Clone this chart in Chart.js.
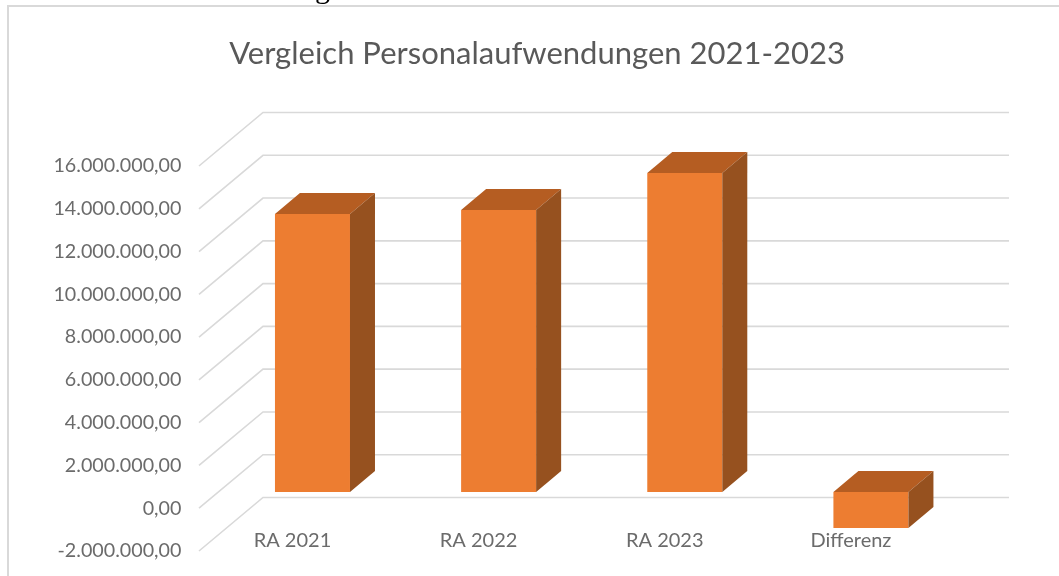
<!DOCTYPE html>
<html><head><meta charset="utf-8">
<style>html,body{margin:0;padding:0;background:#fff;overflow:hidden}canvas{display:block}</style>
<script src="https://cdn.jsdelivr.net/npm/chart.js@4"></script>
</head><body><div style="width:1059px;height:576px;position:relative;overflow:hidden"><canvas id="c"></canvas>
<div style="position:absolute;left:315px;top:-27px;font:30px/30px 'Liberation Serif',serif;color:#000">g</div></div>
<script>
const categories = ['RA 2021','RA 2022','RA 2023','Differenz'];
const values = [13000000, 13180000, 14910000, -1680000];
const chartTitle = 'Vergleich Personalaufwendungen 2021-2023';
const tickStep = 2000000;
const FONT = 'Lato, "Open Sans", sans-serif';
const DEPTH_X = 25, DEPTH_Y = 21, WALL_X = 64, WALL_Y = 53.5, WALL_RIGHT = 1009;
const fmt = v => new Intl.NumberFormat('de-DE',{minimumFractionDigits:2,maximumFractionDigits:2}).format(v);

const scene = {
  id:'scene',
  beforeDraw(ch){
    const c = ch.ctx, y = ch.scales.y;
    c.save();
    c.strokeStyle = '#d9d9d9'; c.lineWidth = 2;
    c.beginPath(); c.moveTo(8,576); c.lineTo(8,6); c.lineTo(1059,6); c.stroke();
    c.strokeStyle = '#d9d9d9'; c.lineWidth = 1.6;
    y.ticks.forEach(t=>{
      const py = y.getPixelForValue(t.value);
      c.beginPath(); c.moveTo(199,py); c.lineTo(199+WALL_X,py-WALL_Y); c.lineTo(WALL_RIGHT,py-WALL_Y); c.stroke();
    });
    c.restore();
  },
  afterDatasetsDraw(ch){
    const c = ch.ctx;
    ch.getDatasetMeta(0).data.forEach(b=>{
      const p = b.getProps(['x','y','base','width'],true);
      const l = p.x-p.width/2, r = p.x+p.width/2;
      const top = Math.min(p.y,p.base), bot = Math.max(p.y,p.base);
      c.save();
      c.fillStyle = '#B55D22';
      c.beginPath(); c.moveTo(l,top); c.lineTo(l+DEPTH_X,top-DEPTH_Y); c.lineTo(r+DEPTH_X,top-DEPTH_Y); c.lineTo(r,top); c.closePath(); c.fill();
      c.fillStyle = '#96511F';
      c.beginPath(); c.moveTo(r,top); c.lineTo(r+DEPTH_X,top-DEPTH_Y); c.lineTo(r+DEPTH_X,bot-DEPTH_Y); c.lineTo(r,bot); c.closePath(); c.fill();
      c.restore();
    });
  }
};

new Chart(document.getElementById('c'),{
  type:'bar',
  data:{labels:categories,datasets:[{data:values,yAxisID:'yb',backgroundColor:'#ED7D31',categoryPercentage:1,barPercentage:0.403}]},
  plugins:[scene],
  options:{
    responsive:true,maintainAspectRatio:false,animation:false,
    layout:{padding:{left:15,right:0,top:0,bottom:0}},
    plugins:{
      legend:{display:false},tooltip:{enabled:false},
      title:{display:true,text:chartTitle,color:'#595959',font:{family:FONT,size:31,weight:'normal'},padding:{top:35,bottom:93.8},align:'center'}
    },
    scales:{
      x:{
        grid:{display:false,drawTicks:false},border:{display:false},
        ticks:{color:'#6b6b6b',font:{family:FONT,size:20},mirror:true,padding:-2,labelOffset:-20,maxRotation:0,autoSkip:false},
        afterFit(a){a.height=25;}
      },
      y:{
        position:'left',min:-2000000,max:16000000,
        grid:{display:false,drawTicks:false},border:{display:false},
        ticks:{stepSize:tickStep,color:'#6b6b6b',font:{family:FONT,size:19.7},padding:38,callback:v=>fmt(v)},
        afterFit(a){a.width=204.4;a.paddingTop=0;a.paddingBottom=0;}
      },
      yb:{
        position:'right',min:-2758000,max:15240000,
        grid:{display:false,drawTicks:false},border:{display:false},
        ticks:{display:false},
        afterFit(a){a.width=95;}
      }
    }
  }
});
</script></body></html>
